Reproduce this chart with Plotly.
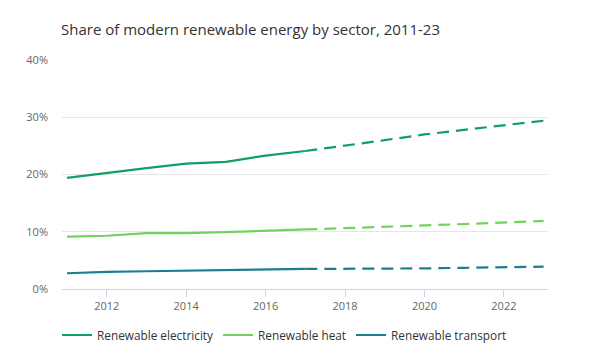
import plotly.graph_objects as go

years_hist = [2011, 2012, 2013, 2014, 2015, 2016, 2017]
years_fc = [2017, 2018, 2019, 2020, 2021, 2022, 2023]

elec_hist = [19.4, 20.3, 21.1, 21.9, 22.2, 23.3, 24.1]
elec_fc = [24.1, 25.0, 26.0, 27.0, 27.8, 28.6, 29.4]
heat_hist = [9.15, 9.3, 9.75, 9.75, 9.95, 10.2, 10.4]
heat_fc = [10.4, 10.6, 10.85, 11.1, 11.35, 11.6, 11.9]
trans_hist = [2.75, 3.0, 3.1, 3.2, 3.3, 3.4, 3.5]
trans_fc = [3.5, 3.5, 3.55, 3.6, 3.7, 3.8, 3.9]

names = ["Renewable electricity", "Renewable heat", "Renewable transport"]
colors = ["#11a061", "#72d25f", "#1c7d93"]

y_ticks = [0, 10, 20, 30, 40]
y_tick_labels = ["0%", "10%", "20%", "30%", "40%"]
x_ticks = [2012, 2014, 2016, 2018, 2020, 2022]

fig = go.Figure()
for name, col, h, f in zip(names, colors, [elec_hist, heat_hist, trans_hist],
                           [elec_fc, heat_fc, trans_fc]):
    fig.add_trace(go.Scatter(x=years_hist, y=h, mode="lines", name=name,
                             line=dict(color=col, width=2.2), legendgroup=name))
    fig.add_trace(go.Scatter(x=years_fc, y=f, mode="lines", name=name,
                             line=dict(color=col, width=2.2, dash="12px,7px"),
                             legendgroup=name, showlegend=False))

fig.update_layout(
    width=600, height=354,
    margin=dict(l=62, r=52, t=60, b=65, autoexpand=False),
    paper_bgcolor="white", plot_bgcolor="white",
    font=dict(family="Open Sans", color="#666666", size=11),
    title=dict(text="Share of modern renewable energy by sector, 2011-23",
               x=61/600, xanchor="left", y=1-30/354, yanchor="middle",
               font=dict(family="Open Sans", size=15, color="#333333")),
    legend=dict(orientation="h", xref="container", yref="container",
                x=57/600, xanchor="left", y=1-335/354, yanchor="middle",
                font=dict(family="Open Sans", size=11.8, color="#333333"),
                traceorder="normal"),
    showlegend=True,
)
fig.update_xaxes(range=[2010.874, 2023.11], tickvals=x_ticks, showgrid=False,
                 showline=True, linecolor="#ccd6eb", linewidth=1,
                 ticks="outside", ticklen=7, tickcolor="#ccd6eb",
                 zeroline=False, fixedrange=True)
fig.update_yaxes(range=[0, 40], tickvals=y_ticks, ticktext=y_tick_labels,
                 showgrid=True, gridcolor="#e6e6e6", gridwidth=1,
                 zeroline=False, showline=False, ticklabelstandoff=13,
                 fixedrange=True)

fig.write_html("out.html")
